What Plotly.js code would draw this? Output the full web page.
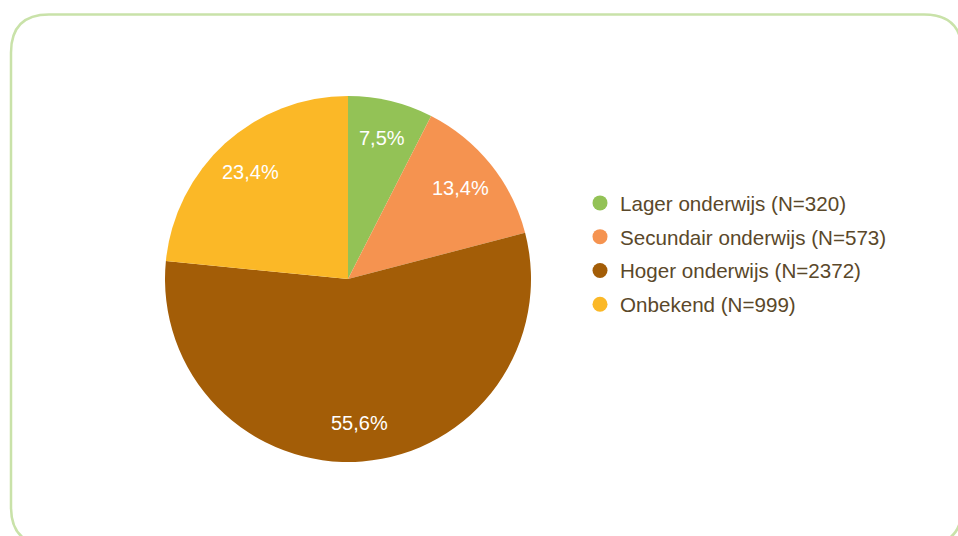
<!DOCTYPE html>
<html>
<head>
<meta charset="utf-8">
<script src="https://cdn.plot.ly/plotly-3.0.1.min.js"></script>
<style>
html,body{margin:0;padding:0;background:#fff;}
#chart{width:958px;height:536px;}
</style>
</head>
<body>
<div id="chart"></div>
<script>
const categories = ["Lager onderwijs", "Secundair onderwijs", "Hoger onderwijs", "Onbekend"];
const counts = [320, 573, 2372, 999];
const colors = ["#93c256", "#f59350", "#a35d07", "#fbb827"];
const legendLabels = categories.map((c, i) => c + " (N=" + counts[i] + ")");

const W = 958, H = 536;
const px = x => x / W;
const py = y => 1 - y / H;

// pie geometry (layout)
const cx = 348, cy = 279, R = 183;
const labelFrac = 0.79;

const pie = {
  type: "pie",
  labels: categories,
  values: counts,
  marker: {colors: colors, line: {width: 0}},
  sort: false,
  direction: "clockwise",
  rotation: 0,
  textinfo: "none",
  hoverinfo: "label+value+percent",
  showlegend: false,
  domain: {x: [px(cx - R), px(cx + R)], y: [py(cy + R), py(cy - R)]}
};

// percentage labels derived from the data, placed on each slice's mid-angle
const total = counts.reduce((a, b) => a + b, 0);
let cum = 0;
const annotations = counts.map(v => {
  const frac = v / total;
  const mid = (cum + frac / 2) * 2 * Math.PI;
  cum += frac;
  const lx = cx + labelFrac * R * Math.sin(mid);
  const ly = cy - labelFrac * R * Math.cos(mid);
  return {
    xref: "paper", yref: "paper", x: px(lx), y: py(ly),
    xanchor: "center", yanchor: "middle", showarrow: false,
    text: (frac * 100).toFixed(1).replace(".", ",") + "%",
    font: {family: "Liberation Sans, Arial, sans-serif", size: 20, color: "#ffffff"}
  };
});

const legendTraces = categories.map((c, i) => ({
  type: "scatter",
  mode: "markers",
  x: [null], y: [null],
  name: legendLabels[i],
  legendgroup: "g" + i,
  marker: {color: colors[i], size: 15, symbol: "circle"},
  showlegend: true,
  hoverinfo: "skip"
}));

// rounded border
const x0 = 11, y0 = 14.5, x1 = 962, y1 = 545, r = 38;
const path = [
  "M", px(x0), py(y0 + r),
  "Q", px(x0), py(y0), px(x0 + r), py(y0),
  "L", px(x1 - r), py(y0),
  "Q", px(x1), py(y0), px(x1), py(y0 + r),
  "L", px(x1), py(y1 - r),
  "Q", px(x1), py(y1), px(x1 - r), py(y1),
  "L", px(x0 + r), py(y1),
  "Q", px(x0), py(y1), px(x0), py(y1 - r),
  "Z"
].join(" ");

const layout = {
  width: W, height: H,
  margin: {l: 0, r: 0, t: 0, b: 0},
  paper_bgcolor: "#ffffff",
  plot_bgcolor: "rgba(0,0,0,0)",
  separators: ",.",
  font: {family: "Liberation Sans, Arial, sans-serif"},
  xaxis: {visible: false, domain: [0.7, 0.71]},
  yaxis: {visible: false, domain: [0.7, 0.71]},
  showlegend: true,
  legend: {
    x: px(580), y: py(183), xanchor: "left", yanchor: "top",
    font: {family: "Liberation Sans, Arial, sans-serif", size: 20.6, color: "#5a482a"},
    bgcolor: "rgba(0,0,0,0)",
    tracegroupgap: 4
  },
  annotations: annotations,
  shapes: [{
    type: "path", xref: "paper", yref: "paper", path: path,
    line: {color: "#c9e2a9", width: 2.5}, fillcolor: "rgba(0,0,0,0)", layer: "below"
  }]
};

Plotly.newPlot("chart", [pie, ...legendTraces], layout, {displayModeBar: false, staticPlot: true});
</script>
</body>
</html>
